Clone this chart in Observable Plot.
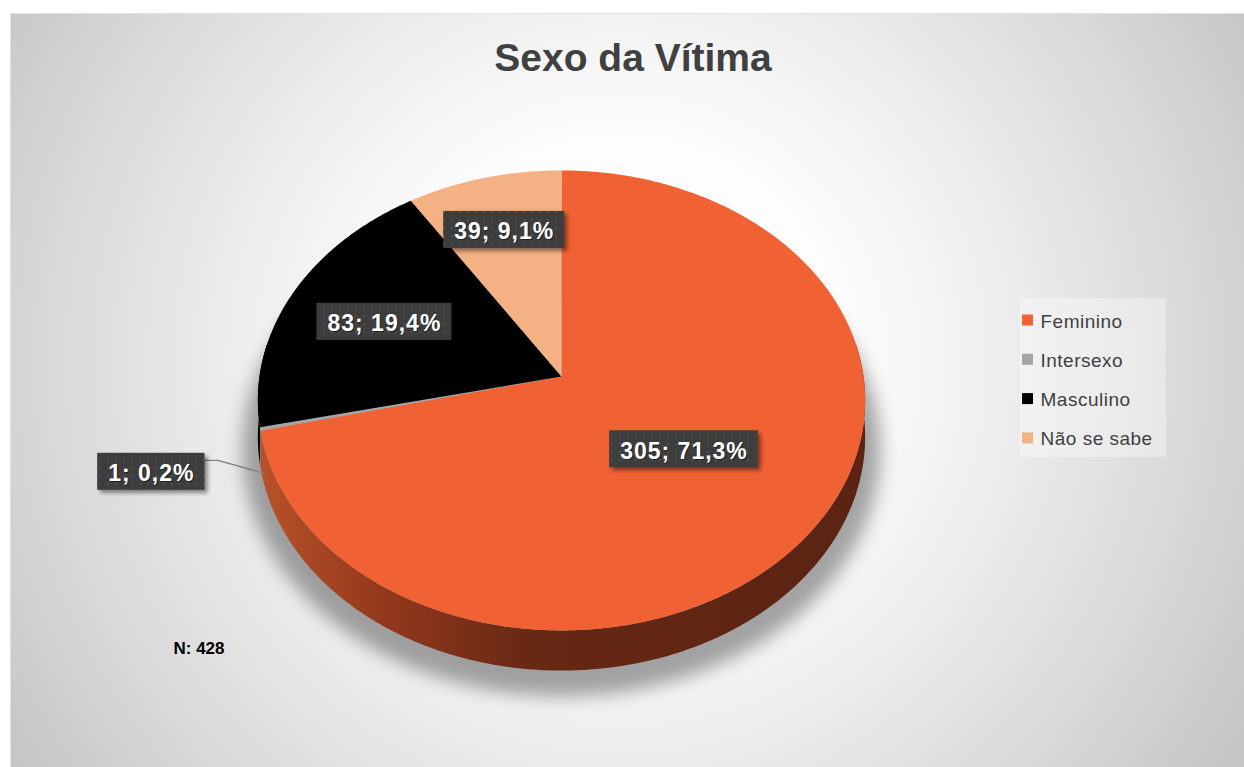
<!DOCTYPE html>
<html>
<head>
<meta charset="utf-8">
<script src="https://cdn.jsdelivr.net/npm/d3@7"></script>
<script src="https://cdn.jsdelivr.net/npm/@observablehq/plot@0.6"></script>
<style>
  html, body { margin: 0; padding: 0; background: #ffffff; }
  #chart svg { display: block; }
</style>
</head>
<body>
<div id="chart"></div>
<script>
// ---------- data ----------
const titleText = "Sexo da Vítima";
const categories = ["Feminino", "Intersexo", "Masculino", "Não se sabe"];
const counts = [305, 1, 83, 39];
const percentLabels = ["71,3%", "0,2%", "19,4%", "9,1%"];

// ---------- styles ----------
const topColors = ["#f06133", "#a5a5a5", "#000000", "#f4b183"];
const sideColors = ["url(#sideGrad)", "#6a6a6a", "#000000", "#a8744f"];
const FONT = "'Liberation Sans', Arial, sans-serif";

// ---------- layout ----------
const W = 1244, H = 767;
const cx = 561, cy = 376, R = 302, Ry = 227.5, K = 0.104, DEPTH = 36;
const labelRadius = [0.5, 1.35, 0.65, 0.72];
const labelOutside = [false, true, false, false];

function project(theta, f = 1, depth = 0) {
  const u = Math.sin(theta) * f, v = -Math.cos(theta) * f;
  const s = 1 / (1 - K * v);
  return [cx + R * u * s, cy + Ry * v * s + depth * s];
}
function arcPts(a0, a1, f, depth) {
  const n = Math.max(2, Math.ceil(Math.abs(a1 - a0) / (Math.PI / 360)));
  return d3.range(n + 1).map(i => project(a0 + (a1 - a0) * i / n, f, depth));
}

const arcs = d3.pie().sort(null).value(d => d)(counts);

// top faces
const topRows = [];
arcs.forEach((a, i) => {
  const pts = [[cx, cy], ...arcPts(a.startAngle, a.endAngle, 1, 0)];
  pts.forEach(([x, y]) => topRows.push({key: categories[i], x, y}));
});
// side faces (front half only)
const sideRows = [];
arcs.forEach((a, i) => {
  const s0 = Math.max(a.startAngle, Math.PI / 2 - 0.15);
  const s1 = Math.min(a.endAngle, 1.5 * Math.PI + 0.15);
  if (s1 <= s0) return;
  const pts = [...arcPts(s0, s1, 1, 0), ...arcPts(s1, s0, 1, DEPTH)];
  pts.forEach(([x, y]) => sideRows.push({key: categories[i], x, y}));
});
// shadow
const shadowRows = arcPts(0, 2 * Math.PI, 1.05, DEPTH + 10).map(([x, y]) => ({x, y}));

// label measurement
const ctx = document.createElement("canvas").getContext("2d");
const LABEL_FS = 23, LABEL_LS = 1.0;
ctx.font = `bold ${LABEL_FS}px ${FONT}`;
const labels = arcs.map((a, i) => {
  const text = `${counts[i]}; ${percentLabels[i]}`;
  const mid = (a.startAngle + a.endAngle) / 2;
  let [x, y] = project(mid, labelRadius[i], 0);
  if (labelOutside[i]) y += DEPTH * 0.66;
  const tw = ctx.measureText(text).width + LABEL_LS * (text.length - 1);
  const w = tw + 22, h = 37;
  return {key: categories[i], text, x, y, x1: x - w / 2, x2: x + w / 2, y1: y - h / 2, y2: y + h / 2, mid};
});
// leader for outside labels
const leaderRows = [];
labels.forEach((l, i) => {
  if (!labelOutside[i]) return;
  const [ex, ey] = project(l.mid, 1, DEPTH * 1.2);
  leaderRows.push({key: l.key, x: l.x2, y: l.y1 + 7});
  leaderRows.push({key: l.key, x: l.x2 + 13, y: l.y1 + 7});
  leaderRows.push({key: l.key, x: ex + 4, y: ey});
});

// legend
const legendRows = categories.map((c, i) => ({c, color: topColors[i], y: 320 + i * 39.3}));
const total = d3.sum(counts);

const marks = [
  Plot.frame({fill: "url(#bgGrad)", stroke: "#e2e2e2"}),
  Plot.line(shadowRows, {x: "x", y: "y", fill: "#000", fillOpacity: 0.34, stroke: "none", ariaDescription: "pieshadow"}),
  ...categories.map((c, i) => Plot.line(sideRows.filter(d => d.key === c), {x: "x", y: "y", fill: sideColors[i], stroke: "none"})),
  ...categories.map((c, i) => Plot.line(topRows.filter(d => d.key === c), {x: "x", y: "y", fill: topColors[i], stroke: "none"})),
  Plot.line(leaderRows, {x: "x", y: "y", z: "key", stroke: "#7f7f7f", strokeWidth: 1.3}),
  Plot.rect(labels, {x1: "x1", x2: "x2", y1: "y1", y2: "y2", dx: 3, dy: 3, fill: "#000", fillOpacity: 0.45, ariaDescription: "boxshadow"}),
  Plot.rect(labels, {x1: "x1", x2: "x2", y1: "y1", y2: "y2", fill: "url(#dots)"}),
  Plot.text(labels, {x: "x", y: d => d.y + 2, text: "text", fill: "#000", fillOpacity: 0.5, dx: 1, dy: 1, fontSize: LABEL_FS, fontWeight: "bold", fontFamily: FONT, ariaDescription: "labeltext"}),
  Plot.text(labels, {x: "x", y: d => d.y + 2, text: "text", fill: "#ffffff", fontSize: LABEL_FS, fontWeight: "bold", fontFamily: FONT, ariaDescription: "labeltext"}),
  // title
  Plot.text([{t: titleText}], {x: () => 632.5, y: () => 58, text: "t", fontSize: 39, fontWeight: "bold", fill: "#404040", fontFamily: FONT}),
  // N
  Plot.text([{t: `N: ${total}`}], {x: () => 173, y: () => 648, text: "t", textAnchor: "start", fontSize: 17, fontWeight: "bold", fill: "#000", fontFamily: FONT}),
  // legend
  Plot.rect([{}], {x1: () => 1020, x2: () => 1166, y1: () => 298, y2: () => 457, fill: "#ffffff", fillOpacity: 0.35}),
  Plot.rect(legendRows, {x1: () => 1022, x2: () => 1033, y1: d => d.y - 5.5, y2: d => d.y + 5.5, fill: "color"}),
  Plot.text(legendRows, {x: () => 1040, y: d => d.y + 1, text: "c", textAnchor: "start", fontSize: 19, fill: "#404040", fontFamily: FONT, ariaDescription: "legendtext"})
];

const svg = Plot.plot({
  width: W, height: H,
  marginLeft: 10, marginTop: 13, marginRight: 0, marginBottom: 0,
  x: {domain: [0, W], range: [0, W], axis: null},
  y: {domain: [0, H], range: [0, H], axis: null},
  color: {type: "identity"},
  style: {background: "#ffffff", fontFamily: FONT},
  marks
});

const s = d3.select(svg);
const defs = s.insert("defs", ":first-child");
const bg = defs.append("radialGradient").attr("id", "bgGrad").attr("gradientUnits", "userSpaceOnUse")
  .attr("cx", 620).attr("cy", 360).attr("r", 720);
[[0, "#ffffff"], [0.3, "#fdfdfd"], [0.5, "#f0f0f0"], [0.8, "#d8d8d8"], [1, "#c6c6c6"]]
  .forEach(([o, c]) => bg.append("stop").attr("offset", o).attr("stop-color", c));
const sg = defs.append("linearGradient").attr("id", "sideGrad").attr("gradientUnits", "userSpaceOnUse")
  .attr("x1", cx - R).attr("y1", 0).attr("x2", cx + R).attr("y2", 0);
[[0, "#b9522a"], [0.2, "#93391c"], [0.45, "#672814"], [1, "#5a2313"]]
  .forEach(([o, c]) => sg.append("stop").attr("offset", o).attr("stop-color", c));
const pat = defs.append("pattern").attr("id", "dots").attr("patternUnits", "userSpaceOnUse")
  .attr("width", 8).attr("height", 8);
pat.append("rect").attr("width", 8).attr("height", 8).attr("fill", "#3d3d3d");
pat.append("circle").attr("cx", 4).attr("cy", 4).attr("r", 1.2).attr("fill", "#4c4c4c");
defs.append("filter").attr("id", "blurBig").attr("filterUnits", "userSpaceOnUse")
  .attr("x", 0).attr("y", 0).attr("width", W).attr("height", H)
  .append("feGaussianBlur").attr("stdDeviation", 9);
defs.append("filter").attr("id", "blurSmall").attr("filterUnits", "userSpaceOnUse")
  .attr("x", 0).attr("y", 0).attr("width", W).attr("height", H)
  .append("feGaussianBlur").attr("stdDeviation", 2);

s.selectAll('[aria-description="pieshadow"]').attr("filter", "url(#blurBig)");
s.selectAll('[aria-description="boxshadow"]').attr("filter", "url(#blurSmall)");
s.selectAll('[aria-description="labeltext"]').style("letter-spacing", LABEL_LS + "px");
s.selectAll('[aria-description="legendtext"]').style("letter-spacing", "0.5px");

document.getElementById("chart").appendChild(svg);
</script>
</body>
</html>
